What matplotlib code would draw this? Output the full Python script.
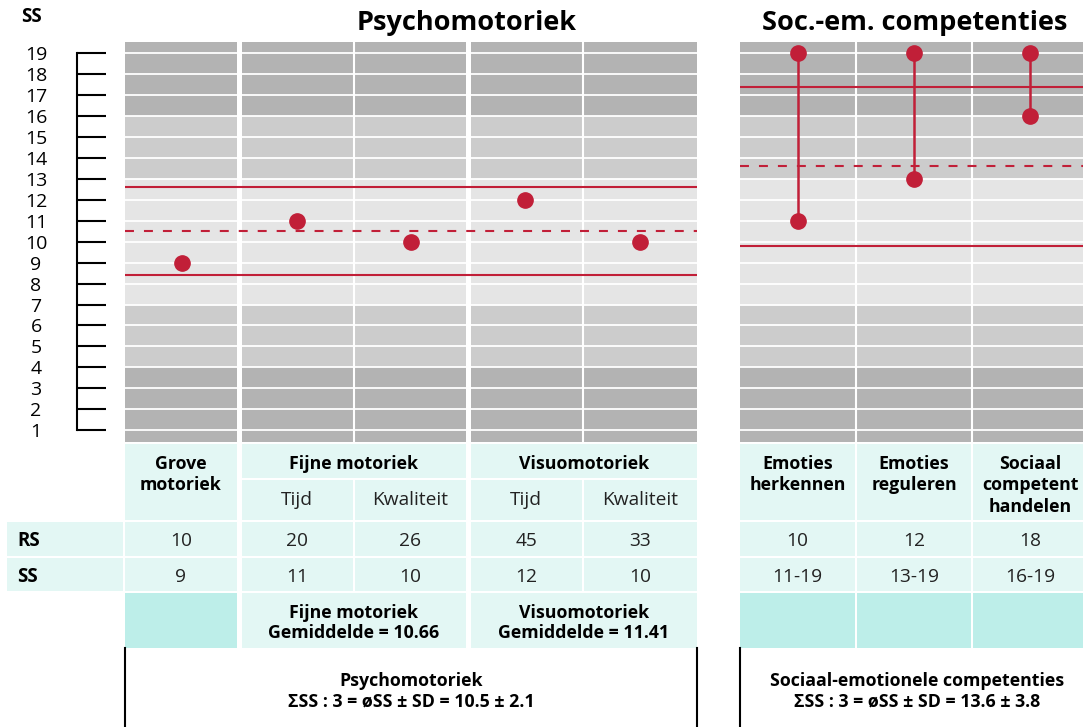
import matplotlib.pyplot as plt
from matplotlib.patches import Rectangle

plt.rcParams['font.family'] = ['Open Sans', 'DejaVu Sans']

# ---- data ----
psych_groups = ['Grove\nmotoriek', 'Fijne motoriek', 'Visuomotoriek']
psych_sub = ['Tijd', 'Kwaliteit', 'Tijd', 'Kwaliteit']
psych_rs = [10, 20, 26, 45, 33]
psych_ss = [9, 11, 10, 12, 10]
soc_cols = ['Emoties\nherkennen', 'Emoties\nreguleren', 'Sociaal\ncompetent\nhandelen']
soc_rs = [10, 12, 18]
soc_low = [11, 13, 16]
soc_high = [19, 19, 19]
group_means = [10.66, 11.41]
psych_mean, psych_sd = 10.5, 2.1
soc_mean, soc_sd = 13.6, 3.8
ss_ticks = list(range(1, 20))
band_edges = [0.45, 4, 7, 13, 16, 19.55]

RED = '#c11f38'
LIGHT = '#e3f7f4'
DARK = '#bdeee9'
TXT = '#222222'
band_colors = ['#b3b3b3', '#cccccc', '#e5e5e5', '#cccccc', '#b3b3b3']

W, H = 1083, 727
fig = plt.figure(figsize=(W / 100, H / 100), dpi=100)


def rect(x0, y0, x1, y1):
    return [x0 / W, 1 - y1 / H, (x1 - x0) / W, (y1 - y0) / H]


bg = fig.add_axes([0, 0, 1, 1], zorder=0)
bg.set_xlim(0, W)
bg.set_ylim(H, 0)
bg.axis('off')

ax_p = fig.add_axes(rect(125, 41.7, 697, 441.7), zorder=1)
ax_s = fig.add_axes(rect(740, 41.7, 1088, 441.7), zorder=1)
ax_p.set_xlim(-0.5, 4.5)
ax_s.set_xlim(-0.5, 2.5)

for ax, seps in [(ax_p, [(0.5, 3.6), (1.5, 1.5), (2.5, 3.6), (3.5, 1.5)]),
                 (ax_s, [(0.5, 1.5), (1.5, 1.5)])]:
    ax.set_ylim(0.45, 19.55)
    ax.axis('off')
    for i, c in enumerate(band_colors):
        ax.axhspan(band_edges[i], band_edges[i + 1], color=c, lw=0, zorder=0)
    for v in ss_ticks:
        ax.axhline(v, color='white', lw=1.3, zorder=1)
    for x, lw in seps:
        ax.axvline(x, color='white', lw=lw, zorder=1)

# mean +/- sd lines
for ax, m, sd in [(ax_p, psych_mean, psych_sd), (ax_s, soc_mean, soc_sd)]:
    ax.axhline(m, color=RED, lw=1.5, dashes=(4.3, 4.8), zorder=3)
    ax.axhline(m - sd, color=RED, lw=1.5, zorder=3)
    ax.axhline(m + sd, color=RED, lw=1.5, zorder=3)

ax_p.plot(range(len(psych_ss)), psych_ss, 'o', color=RED, ms=11, zorder=5)
xs = range(len(soc_low))
ax_s.vlines(xs, soc_low, soc_high, color=RED, lw=1.8, zorder=4)
ax_s.plot(xs, soc_low, 'o', color=RED, ms=11, zorder=5)
ax_s.plot(xs, soc_high, 'o', color=RED, ms=11, zorder=5)

# SS scale
ax_y = fig.add_axes(rect(77, 41.7, 120, 441.7), zorder=1)
ax_y.set_ylim(0.45, 19.55)
ax_y.patch.set_visible(False)
for s in ['top', 'right', 'bottom']:
    ax_y.spines[s].set_visible(False)
ax_y.spines['left'].set_bounds(1, 19)
ax_y.spines['left'].set_linewidth(1.5)
ax_y.set_xticks([])
ax_y.set_yticks(ss_ticks)
ax_y.tick_params(axis='y', direction='in', length=21, width=1.5, pad=29.5, labelsize=14)
for t in ax_y.get_yticklabels():
    t.set_ha('center')

# titles
bg.text(32, 17, 'SS', fontsize=13.5, fontweight='bold', ha='center', va='center')
bg.text(467, 23, 'Psychomotoriek', fontsize=19.5, fontweight='bold', ha='center', va='center')
bg.text(915, 23, 'Soc.-em. competenties', fontsize=19.5, fontweight='bold', ha='center', va='center')


# ---- table ----
def cell(x0, x1, y0, y1, color=LIGHT):
    bg.add_patch(Rectangle((x0, y0), x1 - x0, y1 - y0, color=color, lw=0))


pe = [125, 239.4, 353.8, 468.2, 582.6, 697]
se = [740, 856, 972, 1088]
pgap = [0, 5, 2, 5, 2, 0]
sgap = [0, 2, 2, 0]
px0 = [pe[i] + pgap[i] / 2 for i in range(5)]
px1 = [pe[i + 1] - pgap[i + 1] / 2 for i in range(5)]
sx0 = [se[i] + sgap[i] / 2 for i in range(3)]
sx1 = [se[i + 1] - sgap[i + 1] / 2 for i in range(3)]

rows = {'h1': (444, 477.5), 'h2': (480, 520), 'rs': (522, 555.5),
        'ss': (557.5, 590.5), 'bot': (593, 648)}

fb = 12.8   # bold
fr = 13.8   # regular
# headers
cell(px0[0], px1[0], 444, 520)
bg.text((px0[0] + px1[0]) / 2, 455, psych_groups[0], fontsize=fb, fontweight='bold',
        ha='center', va='top', linespacing=1.25)
for g, (a, b) in enumerate([(1, 2), (3, 4)]):
    cell(px0[a], px1[b], *rows['h1'])
    bg.text((px0[a] + px1[b]) / 2, 464, psych_groups[g + 1], fontsize=fb,
            fontweight='bold', ha='center', va='center')
for i in range(1, 5):
    cell(px0[i], px1[i], *rows['h2'])
    bg.text((px0[i] + px1[i]) / 2, 500, psych_sub[i - 1], fontsize=fr,
            ha='center', va='center', color=TXT)
for i in range(3):
    cell(sx0[i], sx1[i], 444, 520)
    bg.text((sx0[i] + sx1[i]) / 2, 455, soc_cols[i], fontsize=fb, fontweight='bold',
            ha='center', va='top', linespacing=1.25)

# RS / SS rows
ss_text = [str(v) for v in psych_ss] + [f'{lo}-{hi}' for lo, hi in zip(soc_low, soc_high)]
rs_text = [str(v) for v in psych_rs + soc_rs]
cx = [(a + b) / 2 for a, b in zip(px0 + sx0, px1 + sx1)]
for key, label, vals in [('rs', 'RS', rs_text), ('ss', 'SS', ss_text)]:
    y0, y1 = rows[key]
    ym = (y0 + y1) / 2 + 2.5
    cell(7, 123, y0, y1)
    bg.text(17, ym, label, fontsize=13.5, fontweight='bold', ha='left', va='center')
    for i in range(5):
        cell(px0[i], px1[i], y0, y1)
    for i in range(3):
        cell(sx0[i], sx1[i], y0, y1)
    for x, v in zip(cx, vals):
        bg.text(x, ym, v, fontsize=fr, ha='center', va='center', color=TXT)

# bottom row
y0, y1 = rows['bot']
cell(px0[0], px1[0], y0, y1, DARK)
for g, (a, b) in enumerate([(1, 2), (3, 4)]):
    cell(px0[a], px1[b], y0, y1)
    bg.text((px0[a] + px1[b]) / 2, 623, f'{psych_groups[g + 1]}\nGemiddelde = {group_means[g]}',
            fontsize=fb, fontweight='bold', ha='center', va='center', linespacing=1.2)
for i in range(3):
    cell(sx0[i], sx1[i], y0, y1, DARK)

# summary boxes
for x in [125, 697, 740]:
    bg.plot([x, x], [648, H], color='black', lw=1.5)
bg.text(411, 691, f'Psychomotoriek\nΣSS : 3 = øSS ± SD = {psych_mean} ± {psych_sd}',
        fontsize=fb, fontweight='bold', ha='center', va='center', linespacing=1.2)
bg.text(917, 691, f'Sociaal-emotionele competenties\nΣSS : 3 = øSS ± SD = {soc_mean} ± {soc_sd}',
        fontsize=fb, fontweight='bold', ha='center', va='center', linespacing=1.2)

fig.savefig('out.png', dpi=100)
